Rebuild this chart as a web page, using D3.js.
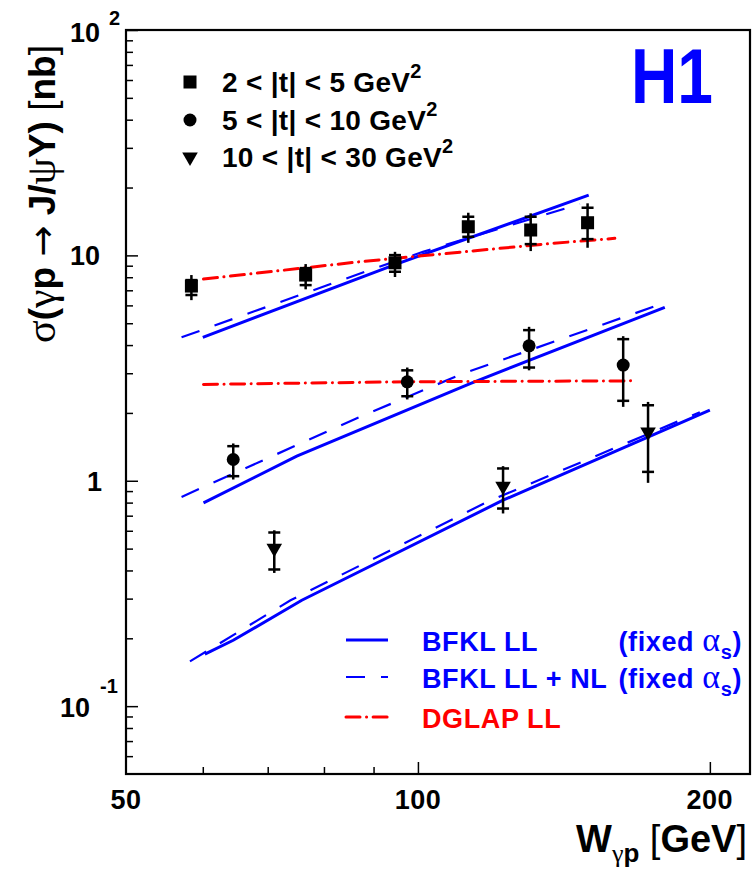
<!DOCTYPE html>
<html>
<head>
<meta charset="utf-8">
<style>
     body {
          margin: 0;
          background: white;
     }
     svg {
          display: block;
     }
     text {
          font-family: "Liberation Sans", Arial, Helvetica, sans-serif;
          font-weight: bold;
     }
     .greek {
          font-family: "Liberation Serif", "DejaVu Serif", serif;
          font-weight: normal;
     }
     .arrow {
          font-family: "DejaVu Sans", sans-serif;
          font-weight: normal;
     }
     .thin {
          font-weight: normal;
     }
     .axis path {
          display: none;
     }
     .axis line {
          stroke: #000;
          stroke-width: 1.5;
     }
</style>
</head>
<body>
<script src="https://d3js.org/d3.v7.min.js"></script>
<script>

     // data points, 2 < |t| < 5 GeV^2
     var sqW       = [58.4, 76.6, 94.7, 112.7, 130.7, 149.6];
     var sqSig     = [7.31, 8.18, 9.27, 13.4, 12.96, 13.96];
     var sqStatLo  = [6.67, 7.38, 8.46, 12.09, 11.22, 11.81];
     var sqStatHi  = [7.77, 8.78, 10.03, 14.84, 14.84, 16.27];
     var sqTotLo   = [6.33, 7.07, 8.02, 11.37, 10.45, 10.81];
     var sqTotHi   = [8.18, 9.15, 10.37, 15.46, 15.37, 17.02];

     // 5 < |t| < 10 GeV^2
     var ciW       = [64.5, 97.5, 130.2, 162.8];
     var ciSig     = [1.243, 2.748, 3.97, 3.26];
     var ciStatLo  = [1.048, 2.372, 3.18, 2.263];
     var ciStatHi  = [1.424, 3.09, 4.66, 4.25];
     var ciTotLo   = [1.013, 2.295, 3.09, 2.128];
     var ciTotHi   = [1.464, 3.18, 4.82, 4.38];

     // 10 < |t| < 30 GeV^2
     var trW       = [71.1, 122.4, 172.7];
     var trSig     = [0.502, 0.946, 1.644];
     var trStatLo  = [0.404, 0.753, 1.095];
     var trStatHi  = [0.5895, 1.134, 2.163];
     var trTotLo   = [0.390, 0.716, 0.979];
     var trTotHi   = [0.603, 1.161, 2.238];

     // theory curves
     var llUpW   = [60, 94.4, 150];
     var llUpS   = [4.33, 9.06, 18.5];
     var nlUpW   = [57.05, 89.2, 101.2, 146.9];
     var nlUpS   = [4.33, 8.61, 10.37, 16.9];
     var dgUpW   = [60.1, 87.1, 137.4, 159.6];
     var dgUpS   = [7.85, 9.37, 11.3, 11.9];

     var llMidW  = [60.1, 75, 113.2, 179.7];
     var llMidS  = [0.798, 1.286, 2.70, 5.88];
     var nlMidW  = [57.05, 86.5, 111.4, 179.7];
     var nlMidS  = [0.848, 1.896, 2.995, 6.16];
     var dgMidW  = [60.1, 97.5, 168];
     var dgMidS  = [2.676, 2.75, 2.776];

     var llLowW  = [60.3, 64.5, 75.9, 122.4, 200];
     var llLowS  = [0.170, 0.196, 0.295, 0.820, 2.058];
     var nlLowW  = [58.2, 73.9, 117.9, 195.3];
     var nlLowS  = [0.158, 0.295, 0.806, 2.016];

     var yMajor = [0.1, 1, 10, 100];
     var yMinor = [0.06, 0.07, 0.08, 0.09, 0.2, 0.3, 0.4, 0.5, 0.6, 0.7, 0.8, 0.9,
                   2, 3, 4, 5, 6, 7, 8, 9, 20, 30, 40, 50, 60, 70, 80, 90];
     var xMajor = [100, 200];
     var xMinor = [60, 70, 80, 90];
     var xLabels = [50, 100, 200];

     var legendTop = ["2 < |t| < 5 GeV", "5 < |t| < 10 GeV", "10 < |t| < 30 GeV"];

     var width = 755, height = 869;
     var frame = {left: 126, right: 750, top: 30, bottom: 774};

     var x = d3.scaleLog().domain([50, 220]).range([frame.left, frame.right]);
     var y = d3.scaleLog().domain([0.05, 100]).range([frame.bottom, frame.top]);

     var svg = d3.select("body").append("svg")
          .attr("width", width)
          .attr("height", height);

     // ticks (pointing inward)
     svg.append("g").attr("class", "axis")
          .attr("transform", "translate(" + frame.left + ",0)")
          .call(d3.axisLeft(y).tickValues(yMajor).tickSize(-12).tickFormat(""));
     svg.append("g").attr("class", "axis")
          .attr("transform", "translate(" + frame.left + ",0)")
          .call(d3.axisLeft(y).tickValues(yMinor).tickSize(-7).tickFormat(""));
     svg.append("g").attr("class", "axis")
          .attr("transform", "translate(0," + frame.bottom + ")")
          .call(d3.axisBottom(x).tickValues(xMajor).tickSize(-12).tickFormat(""));
     svg.append("g").attr("class", "axis")
          .attr("transform", "translate(0," + frame.bottom + ")")
          .call(d3.axisBottom(x).tickValues(xMinor).tickSize(-7).tickFormat(""));

     svg.append("rect")
          .attr("x", frame.left)
          .attr("y", frame.top)
          .attr("width", frame.right - frame.left)
          .attr("height", frame.bottom - frame.top)
          .attr("fill", "none")
          .attr("stroke", "#000")
          .attr("stroke-width", 2.2);

     // x tick labels
     svg.selectAll(".xlab").data(xLabels)
       .enter().append("text")
          .attr("x", function(d) { return x(d); })
          .attr("y", 809)
          .attr("text-anchor", "middle")
          .style("font-size", "27px")
          .style("letter-spacing", "0.5px")
          .text(function(d) { return d; });

     // y tick labels
     svg.append("text").attr("x", 100).attr("y", y(10) + 10)
          .attr("text-anchor", "end").style("font-size", "27px").text("10");
     svg.append("text").attr("x", 102).attr("y", y(1) + 10)
          .attr("text-anchor", "end").style("font-size", "27px").text("1");
     svg.append("text").attr("x", 100).attr("y", y(100) + 12)
          .attr("text-anchor", "end").style("font-size", "27px").text("10");
     svg.append("text").attr("x", 109).attr("y", y(100) - 5)
          .style("font-size", "20px").text("2");
     svg.append("text").attr("x", 90).attr("y", y(0.1) + 11)
          .attr("text-anchor", "end").style("font-size", "27px").text("10");
     svg.append("text").attr("x", 100).attr("y", y(0.1) - 13)
          .style("font-size", "20px").text("-1");

     // axis titles
     var xt = svg.append("text")
          .attr("x", 747).attr("y", 852)
          .attr("text-anchor", "end")
          .style("font-size", "38px");
     xt.append("tspan").text("W");
     xt.append("tspan").attr("class", "greek").attr("dy", 10).style("font-size", "26px").text("γ");
     xt.append("tspan").style("font-size", "26px").text("p");
     xt.append("tspan").attr("dy", -10).attr("class", "thin").text(" [");
     xt.append("tspan").text("GeV");
     xt.append("tspan").attr("class", "thin").text("]");

     var yt = svg.append("text")
          .attr("transform", "translate(55,194) rotate(-90)")
          .attr("text-anchor", "middle")
          .style("font-size", "37px");
     yt.append("tspan").attr("class", "greek").style("font-size", "42px").text("σ");
     yt.append("tspan").text("(");
     yt.append("tspan").attr("class", "greek").style("font-size", "42px").text("γ");
     yt.append("tspan").text("p ");
     yt.append("tspan").attr("class", "arrow").text("→");
     yt.append("tspan").text(" J/");
     yt.append("tspan").attr("class", "greek").style("font-size", "42px").text("ψ");
     yt.append("tspan").text("Y) ");
     yt.append("tspan").attr("class", "thin").text("[");
     yt.append("tspan").text("nb");
     yt.append("tspan").attr("class", "thin").text("]");

     // H1 logo
     svg.append("text")
          .attr("x", 631).attr("y", 103)
          .attr("textLength", 82)
          .attr("lengthAdjust", "spacingAndGlyphs")
          .style("font-size", "78px")
          .style("fill", "#0000ff")
          .text("H1");

     // curves
     function zipPts(ws, ss) {
          return ws.map(function(w, i) { return [w, ss[i]]; });
     }
     var line = d3.line()
          .x(function(d) { return x(d[0]); })
          .y(function(d) { return y(d[1]); });

     var curves = svg.append("g").attr("fill", "none");
     var styles = {
          ll: {stroke: "#0000ff", width: 3, dash: null, cap: "butt"},
          nl: {stroke: "#0000ff", width: 2.2, dash: "19,16", cap: "butt"},
          dg: {stroke: "#ff0000", width: 3, dash: "14,6.5,0.1,6.5", cap: "round"}
     };
     function drawCurve(ws, ss, st) {
          var s = styles[st];
          curves.append("path")
               .attr("d", line(zipPts(ws, ss)))
               .attr("stroke", s.stroke)
               .attr("stroke-width", s.width)
               .attr("stroke-dasharray", s.dash)
               .attr("stroke-linecap", s.cap);
     }
     drawCurve(llUpW, llUpS, "ll");
     drawCurve(nlUpW, nlUpS, "nl");
     drawCurve(dgUpW, dgUpS, "dg");
     drawCurve(llMidW, llMidS, "ll");
     drawCurve(nlMidW, nlMidS, "nl");
     drawCurve(dgMidW, dgMidS, "dg");
     drawCurve(llLowW, llLowS, "ll");
     drawCurve(nlLowW, nlLowS, "nl");

     // data points with error bars
     function drawSet(ws, sig, sLo, sHi, tLo, tHi, marker) {
          var g = svg.append("g");
          ws.forEach(function(w, i) {
               var cx = x(w);
               g.append("line")
                    .attr("x1", cx).attr("x2", cx)
                    .attr("y1", y(tLo[i])).attr("y2", y(tHi[i]))
                    .attr("stroke", "#000").attr("stroke-width", 2.5);
               [sLo[i], sHi[i]].forEach(function(v) {
                    g.append("line")
                         .attr("x1", cx - 6).attr("x2", cx + 6)
                         .attr("y1", y(v)).attr("y2", y(v))
                         .attr("stroke", "#000").attr("stroke-width", 2.5);
               });
               marker(g, cx, y(sig[i]));
          });
     }
     function square(g, cx, cy) {
          g.append("rect").attr("x", cx - 6.5).attr("y", cy - 6.5)
               .attr("width", 13).attr("height", 13).attr("fill", "#000");
     }
     function circle(g, cx, cy) {
          g.append("circle").attr("cx", cx).attr("cy", cy).attr("r", 6.5).attr("fill", "#000");
     }
     function triangle(g, cx, cy) {
          g.append("path")
               .attr("d", d3.symbol().type(d3.symbolTriangle).size(105)())
               .attr("transform", "translate(" + cx + "," + cy + ") rotate(180)")
               .attr("fill", "#000");
     }
     drawSet(sqW, sqSig, sqStatLo, sqStatHi, sqTotLo, sqTotHi, square);
     drawSet(ciW, ciSig, ciStatLo, ciStatHi, ciTotLo, ciTotHi, circle);
     drawSet(trW, trSig, trStatLo, trStatHi, trTotLo, trTotHi, triangle);

     // top legend
     var markers = [square, circle, triangle];
     var legRows = [82, 120, 157];
     legendTop.forEach(function(t, i) {
          markers[i](svg, 190, legRows[i]);
          var tx = svg.append("text")
               .attr("x", 222).attr("y", legRows[i] + 10)
               .style("font-size", "28px")
               .style("letter-spacing", "0.3px")
               .text(t);
          tx.append("tspan").attr("dy", -14).style("font-size", "20px").text("2");
     });

     // bottom legend
     var legBottom = [
          {st: "ll", y: 640},
          {st: "nl", y: 677},
          {st: "dg", y: 717}
     ];
     legBottom.forEach(function(d) {
          var s = styles[d.st];
          svg.append("line")
               .attr("x1", 346).attr("x2", 388)
               .attr("y1", d.y).attr("y2", d.y)
               .attr("stroke", s.stroke)
               .attr("stroke-width", s.width)
               .attr("stroke-dasharray", s.dash)
               .attr("stroke-linecap", s.cap);
     });
     svg.append("text").attr("x", 422).attr("y", 651)
          .style("font-size", "27px").style("letter-spacing", "0.6px")
          .style("fill", "#0000ff").text("BFKL LL");
     svg.append("text").attr("x", 422).attr("y", 688)
          .style("font-size", "27px").style("letter-spacing", "0.6px")
          .style("fill", "#0000ff").text("BFKL LL + NL");
     svg.append("text").attr("x", 422).attr("y", 728)
          .style("font-size", "27px").style("letter-spacing", "0.6px")
          .style("fill", "#ff0000").text("DGLAP LL");

     [651, 688].forEach(function(by) {
          var f = svg.append("text").attr("x", 742).attr("y", by)
               .attr("text-anchor", "end")
               .style("font-size", "27px").style("letter-spacing", "0.6px")
               .style("fill", "#0000ff");
          f.append("tspan").text("(fixed ");
          f.append("tspan").attr("class", "greek").style("font-size", "34px").text("α");
          f.append("tspan").attr("dy", 8).style("font-size", "20px").text("s");
          f.append("tspan").attr("dy", -8).text(")");
     });

</script>
</body>
</html>
